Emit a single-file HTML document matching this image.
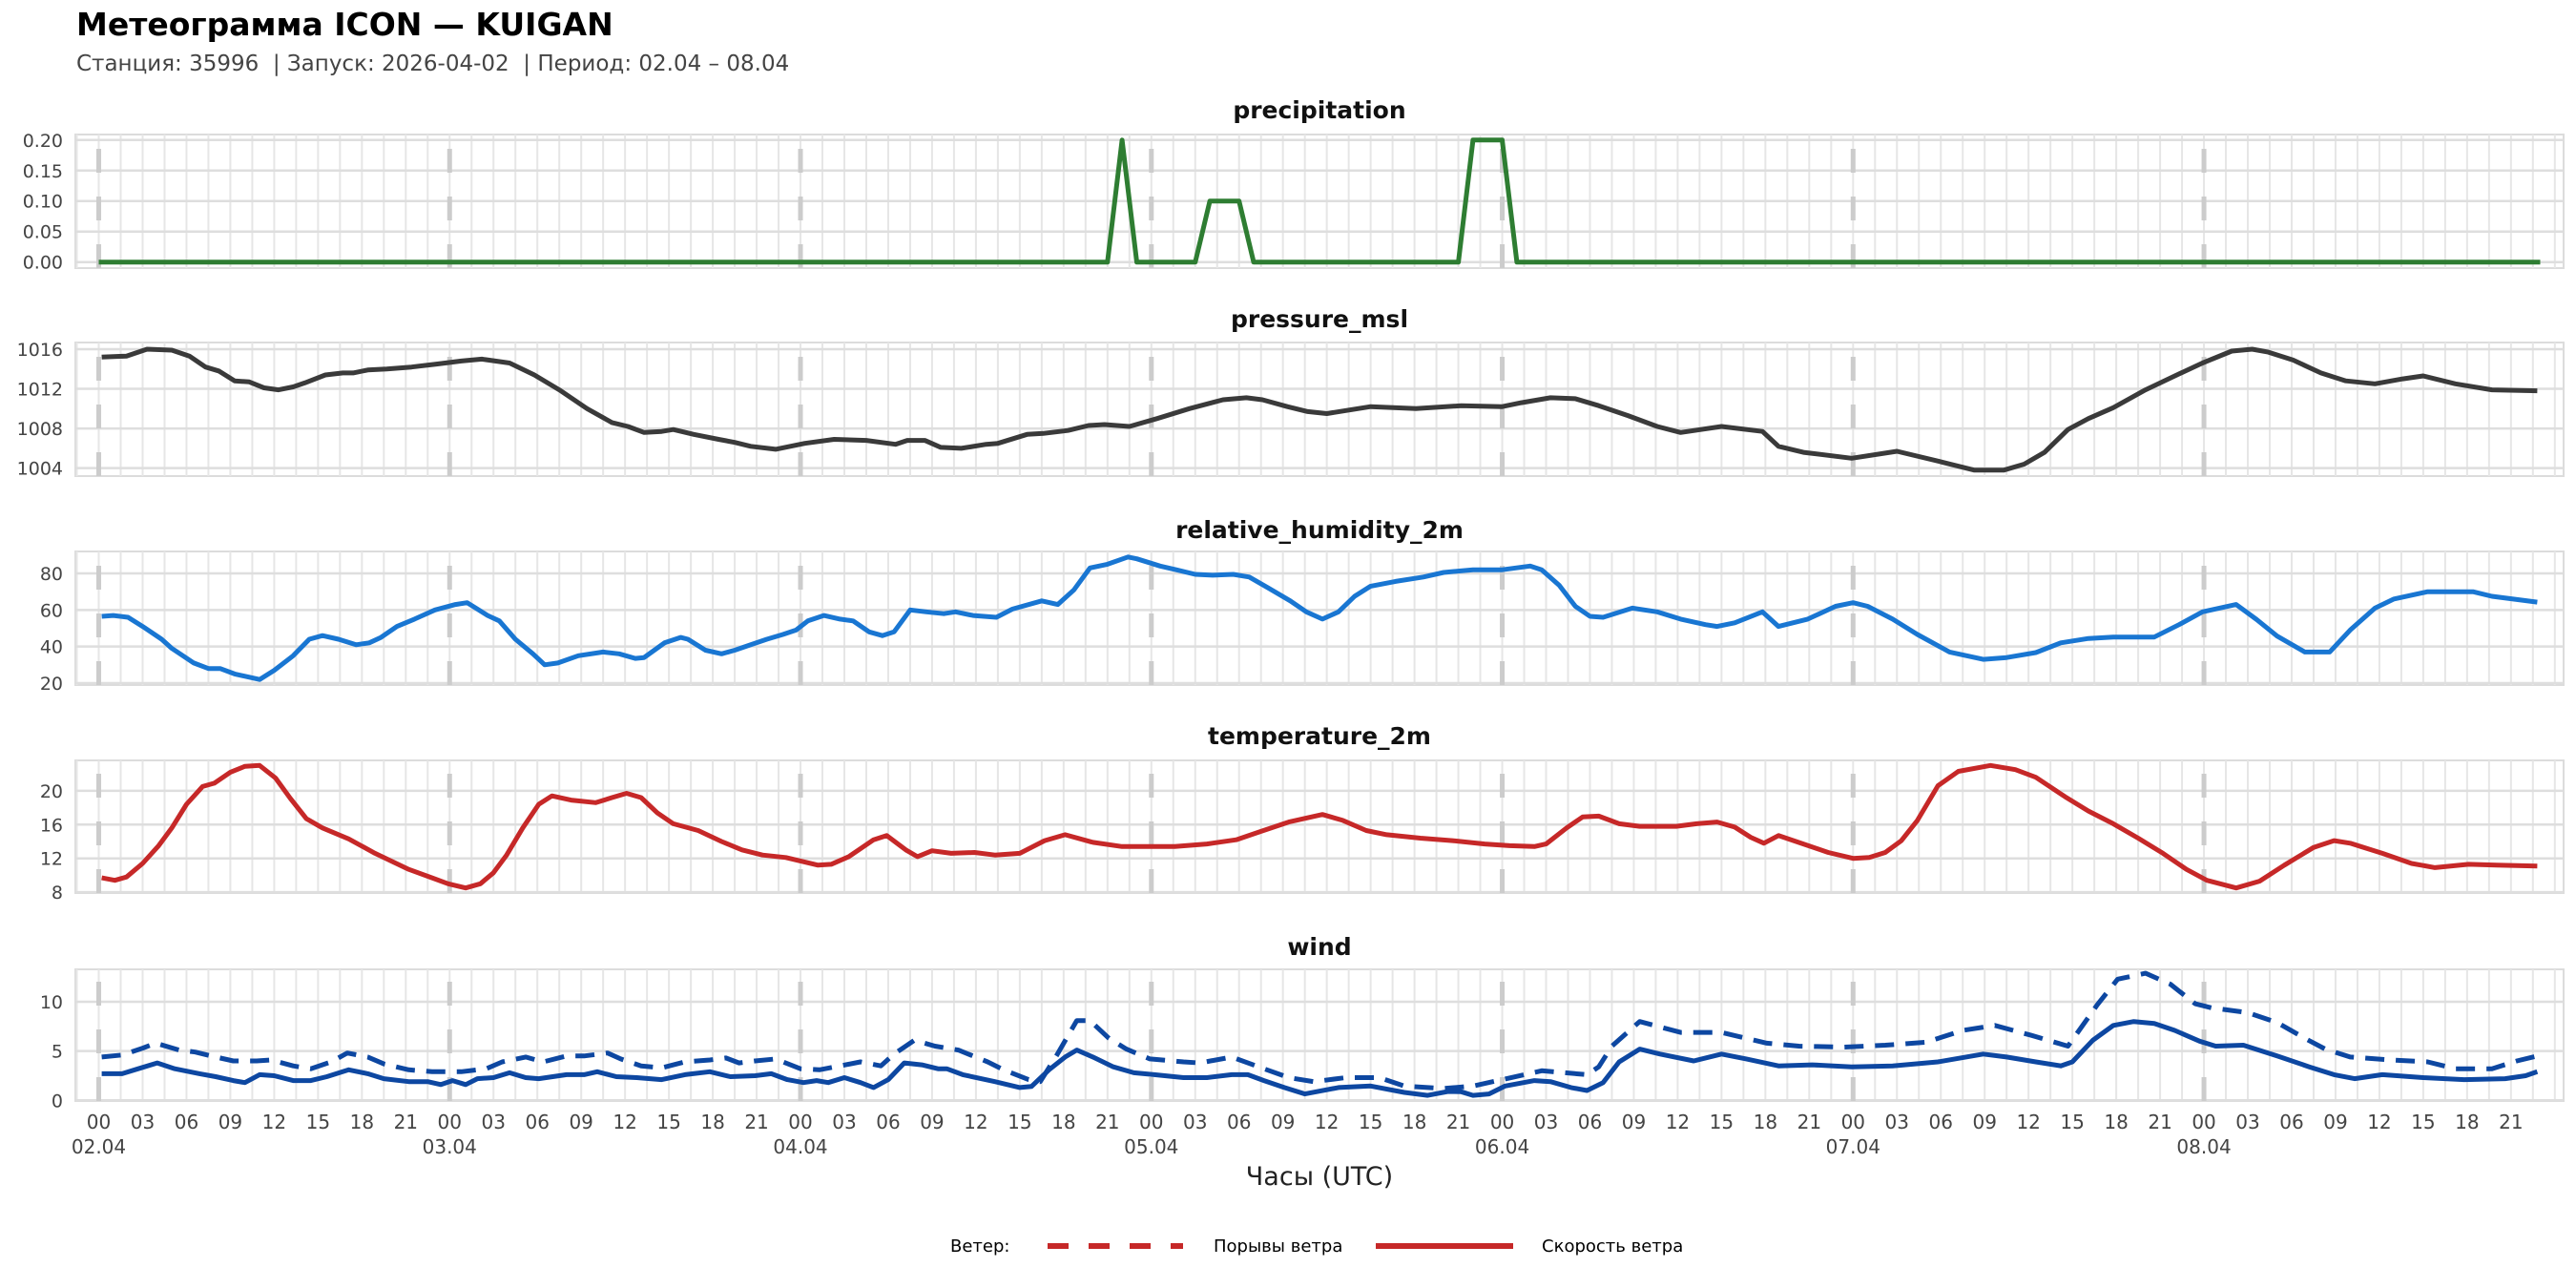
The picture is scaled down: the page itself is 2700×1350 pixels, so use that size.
<!DOCTYPE html>
<html><head><meta charset="utf-8">
<style>
html,body{margin:0;padding:0;background:#fff;}
svg{display:block;font-family:"DejaVu Sans","Liberation Sans","Noto Sans CJK SC",sans-serif;}
</style></head>
<body>
<svg id="chart" width="2700" height="1350" viewBox="0 0 2700 1350">
<text x="80" y="37" font-size="33" font-weight="bold" fill="#000">Метеограмма ICON — KUIGAN</text>
<text x="80" y="74" font-size="23" fill="#444">Станция: 35996 &#160;| Запуск: 2026-04-02 &#160;| Период: 02.04 – 08.04</text>
<text x="1383" y="1242" font-size="27" fill="#222" text-anchor="middle">Часы (UTC)</text>
<g>
<text x="996" y="1312" font-size="18" fill="#000">Ветер:</text>
<line x1="1098" y1="1306" x2="1240" y2="1306" stroke="#c62828" stroke-width="6" stroke-dasharray="22 21"/>
<text x="1272" y="1312" font-size="18" fill="#000">Порывы ветра</text>
<line x1="1442" y1="1306" x2="1586" y2="1306" stroke="#c62828" stroke-width="6"/>
<text x="1616" y="1312" font-size="18" fill="#000">Скорость ветра</text>
</g>
</svg>
<script>
// ---- data ----
const dayLabels = ["02.04","03.04","04.04","05.04","06.04","07.04","08.04"];
const hourLabels = ["00","03","06","09","12","15","18","21"];

const precipHours = [0,69,70,71,75,76,77,78,79,93,94,95,96,97,167];
const precipVals  = [0,0,0.2,0,0,0.1,0.1,0.1,0,0,0.2,0.2,0.2,0,0];

const pressureHours = [0.2,1.9,3.3,5,6.2,7.3,8.2,9.3,10.3,11.3,12.3,13.3,14.1,15.5,16.7,17.4,18.4,19.7,21.4,23.1,24.8,26.2,28.1,29.8,31.5,33.4,35.1,36.2,37.3,38.5,39.3,40.7,42.4,43.5,44.6,46.3,48.3,50.3,52.5,54.5,55.3,56.5,57.6,59,60.7,61.5,63.5,64.6,66.3,67.7,68.8,70.5,72.4,74.6,76.9,78.5,79.6,81.3,82.7,84,87,90.1,93.2,96,97.3,99.3,101,102.6,104.6,106.6,108.2,111,113.8,114.9,116.6,119.9,123,126.1,128.3,130.3,131.7,133.1,134.7,136.1,137.8,140,142.3,143.9,145.9,147.3,148.4,150.1,152,153.7,155.7,157.6,159,161.2,163.7,166.8];
const pressureVals = [1015.2,1015.3,1016,1015.9,1015.3,1014.2,1013.8,1012.8,1012.7,1012.1,1011.9,1012.2,1012.6,1013.4,1013.6,1013.6,1013.9,1014.0,1014.2,1014.5,1014.8,1015.0,1014.6,1013.4,1011.9,1010.0,1008.6,1008.2,1007.6,1007.7,1007.9,1007.4,1006.9,1006.6,1006.2,1005.9,1006.5,1006.9,1006.8,1006.4,1006.8,1006.8,1006.1,1006.0,1006.4,1006.5,1007.4,1007.5,1007.8,1008.3,1008.4,1008.2,1009.0,1010.0,1010.9,1011.1,1010.9,1010.2,1009.7,1009.5,1010.2,1010.0,1010.3,1010.2,1010.6,1011.1,1011.0,1010.3,1009.3,1008.2,1007.6,1008.2,1007.7,1006.2,1005.6,1005.0,1005.7,1004.6,1003.8,1003.8,1004.4,1005.6,1007.9,1009.0,1010.1,1011.9,1013.5,1014.6,1015.8,1016.0,1015.7,1014.9,1013.6,1012.8,1012.5,1013.0,1013.3,1012.5,1011.9,1011.8];

const rhHours = [0.2,1,2,3,4.3,5,6.5,7.5,8.3,9.3,11,12,13.3,14.4,15.3,16.4,17.6,18.5,19.3,20.4,21.6,23,24.4,25.2,26.6,27.4,28.5,29.7,30.5,31.4,32.8,34.5,35.6,36.7,37.3,38.7,39.8,40.3,41.5,42.6,43.5,44.6,45.7,46.8,47.7,48.5,49.6,50.7,51.6,52.7,53.6,54.4,55.5,56.6,57.8,58.6,59.8,61.4,62.5,64.5,65.6,66.7,67.8,69,70.4,71,72.6,73.7,75,76.2,77.6,78.7,80,81.5,82.6,83.7,84.8,85.9,87,88.7,90.6,92,94,96,97.9,98.7,99.9,101,102,102.9,104.9,106.6,108.2,109.9,110.7,111.9,113.8,114.9,116.9,118.8,120,121,122.7,124.4,126.6,128.9,130.5,132.5,134.2,136.1,137.8,140.6,142.3,143.9,146.2,147.6,149,150.9,152.6,154,155.7,157,159.3,162.4,163.7,166.8];
const rhVals = [56.5,57,56,51,44,39,31,28,28,25,22,27,35,44,46,44,41,42,45,51,55,60,63,64,57,54,44,36,30,31,35,37,36,33.5,34,42,45,44,38,36,38,41,44,46.6,49,54,57,55,54,48,46,48,60,59,58,59,57,56,60.5,65,63,71,83,85,89,88,84,82,79.5,79,79.5,78,72,65,59,55,59,67.5,73,75.6,78,80.5,82,82,84,82,73.5,62,56.5,56,61,59,55,52,51,53,59,51,55,62,64,62,55,46.6,37,33,34,36.7,42,44.4,45.2,45.2,52,59,63,54.8,45.7,37,37,49,61,66,70,70,67.5,64.3];

const tempHours = [0.2,1.1,1.9,3,4.1,5,6,7.1,7.9,9,10,11,12.1,13.1,14.2,15.3,17.1,18.9,21.2,22.8,23.9,25.1,26.1,27,27.9,29,30.1,31,32.3,34,35.1,36.1,37.1,38.2,39.3,41,42.6,44,45.4,47,48.2,49.2,50.1,51.3,53,53.9,55.2,56,57,58.3,59.9,61.3,63,64.7,66.1,68,70,72,73.6,75.8,77.8,79.5,81.4,83.7,85.1,86.7,88.1,90.4,92.6,94.8,96.5,98.2,99,100.4,101.5,102.6,104,105.4,107.9,109.3,110.7,111.9,113,113.9,114.9,116.6,118.3,120,121.1,122.2,123.3,124.4,125.8,127.2,129.4,131.1,132.5,134.5,136.1,137.8,139.5,141.2,142.8,144.2,146.2,147.8,149.5,151.5,152.9,154,156.2,158.2,159.8,162.1,164,166.8];
const tempVals = [9.7,9.4,9.8,11.4,13.5,15.6,18.4,20.5,20.9,22.2,22.9,23.0,21.5,19.1,16.7,15.6,14.3,12.6,10.7,9.7,9.0,8.5,9.0,10.3,12.4,15.6,18.4,19.4,18.9,18.6,19.2,19.7,19.2,17.4,16.1,15.3,14.0,13.0,12.4,12.1,11.6,11.2,11.3,12.2,14.2,14.7,13.0,12.2,12.9,12.6,12.7,12.4,12.6,14.1,14.8,13.9,13.4,13.4,13.4,13.7,14.2,15.2,16.3,17.2,16.5,15.3,14.8,14.4,14.1,13.7,13.5,13.4,13.7,15.6,16.9,17.0,16.1,15.8,15.8,16.1,16.3,15.7,14.5,13.8,14.7,13.7,12.7,12.0,12.1,12.7,14.1,16.5,20.6,22.3,23.0,22.5,21.6,19.3,17.6,16.1,14.4,12.6,10.7,9.4,8.5,9.3,11.2,13.3,14.1,13.8,12.6,11.4,10.9,11.3,11.2,11.1];

const windHours = [0.2,1.6,2.7,4,5.2,6.9,8,9.2,10,11,12,13.3,14.5,15.6,17.1,18.4,19.5,21.2,22.5,23.4,24.2,25.1,25.9,27,28.1,29.2,30.1,32,33.2,34.1,35.4,36.8,38.5,40.1,41.8,43.2,44.9,46,47.1,48.2,49.1,49.9,51,52.1,53,54,55.1,56.3,57.4,58,59.1,61.3,63,63.8,65,66.1,66.9,68,69.4,70.8,72.2,74.2,75.8,77.5,78.6,79.7,81.1,82.5,84.8,87,89.3,90.9,92.3,93.2,94,95.1,96.2,98.2,99.3,100.7,101.8,102.9,104,105.4,106.8,109.1,111,112.7,114.9,117.2,119.9,122.7,125.8,128.9,130.5,132.5,134.2,135,136.4,137.8,139.2,140.6,142,143.7,144.8,146.7,149,151.2,152.9,154.3,156.2,159,161.8,164.6,166,166.8];
const windVals = [2.7,2.7,3.2,3.8,3.2,2.7,2.4,2.0,1.8,2.6,2.5,2.0,2.0,2.4,3.1,2.7,2.2,1.9,1.9,1.6,2.0,1.6,2.2,2.3,2.8,2.3,2.2,2.6,2.6,2.9,2.4,2.3,2.1,2.6,2.9,2.4,2.5,2.7,2.1,1.8,2.0,1.8,2.3,1.8,1.3,2.1,3.8,3.6,3.2,3.2,2.6,1.9,1.3,1.4,3.1,4.4,5.1,4.4,3.4,2.8,2.6,2.3,2.3,2.6,2.6,2.0,1.3,0.65,1.3,1.45,0.8,0.5,0.9,0.87,0.5,0.65,1.45,2.0,1.9,1.3,1.0,1.8,3.9,5.2,4.7,4.0,4.7,4.2,3.5,3.6,3.4,3.5,3.9,4.7,4.4,3.9,3.5,3.9,6.1,7.6,8.0,7.8,7.1,6.0,5.5,5.6,4.5,3.4,2.6,2.2,2.6,2.3,2.1,2.2,2.5,2.9];

const gustHours = [0.2,1.6,3,3.9,5.5,6.6,8,9.2,10.8,11.8,13.3,14.5,15.9,17,18.4,19.5,21.2,22.8,24.8,26.5,27.6,29.2,30.4,32,33.2,34.8,35.7,37.1,38.5,40.1,41.8,42.9,43.8,44.9,46.3,48,49.3,50.7,52.1,53.5,54.4,55.8,57.2,58.8,60.8,61.9,63.6,64.4,65.5,66.9,67.8,69.1,70.3,71.9,74.2,75.3,77.5,79.7,81.4,83.1,85.3,87.6,89.3,92,94,96,98.7,101.8,102.6,103.5,105.4,108.2,111,114.1,116.3,119.4,122.2,125,127.5,129.7,132.2,134.7,136.7,138.1,140,141.7,143.4,144.5,147,149,150.9,152.3,154,156.8,159.3,161.2,163.7,165.4,166.8];
const gustVals = [4.4,4.6,5.3,5.8,5.1,4.9,4.4,4.0,4.0,4.1,3.5,3.2,3.9,4.8,4.4,3.7,3.1,2.9,2.9,3.2,3.9,4.4,3.9,4.5,4.5,4.8,4.2,3.5,3.3,3.9,4.1,4.3,3.8,4.0,4.2,3.2,3.1,3.5,3.9,3.5,4.7,6.1,5.5,5.1,3.9,3.1,2.1,1.9,4.5,8.1,8.1,6.3,5.2,4.2,3.9,3.8,4.4,3.2,2.3,1.9,2.3,2.3,1.45,1.2,1.45,2.1,3.0,2.6,3.4,5.5,8.0,6.9,6.9,5.8,5.5,5.4,5.6,5.9,7.1,7.6,6.6,5.5,9.7,12.3,12.9,11.8,9.8,9.4,8.9,7.9,6.3,5.2,4.4,4.1,3.9,3.2,3.2,4.0,4.5];

const precipTicks = [0,0.05,0.1,0.15,0.2];
const pressureTicks = [1004,1008,1012,1016];
const rhTicks = [20,40,60,80];
const tempTicks = [8,12,16,20];
const windTicks = [0,5,10];

// ---- layout ----
const NS = "http://www.w3.org/2000/svg";
const svg = document.getElementById("chart");
const X0 = 79, X1 = 2687, HMIN = -1.6, HMAX = 168.6;
function xs(h){ return X0 + (h - HMIN) / (HMAX - HMIN) * (X1 - X0); }
function mk(tag, attrs, parent){
  const e = document.createElementNS(NS, tag);
  for (const k in attrs) e.setAttribute(k, attrs[k]);
  (parent || svg).appendChild(e);
  return e;
}
function makeY(top, bottom, vmin, vmax){
  return v => bottom - (v - vmin) / (vmax - vmin) * (bottom - top);
}
function linePath(hours, vals, ys){
  return hours.map((h,i)=>(i?"L":"M")+xs(h).toFixed(1)+","+ys(vals[i]).toFixed(1)).join(" ");
}

function panel(key, title, titleY, top, bottom, vmin, vmax, ticks, fmt){
  const g = mk("g", {});
  
  
  const ys = makeY(top, bottom, vmin, vmax);
  const bg = mk("rect", {x:X0, y:top, width:X1-X0, height:bottom-top, fill:"#fff", stroke:"#dcdcdc", "stroke-width":2}, g);
  
  
  for (let h = -1.5; h <= 168.5; h += 1.5) {
    const l = mk("line", {x1:xs(h), x2:xs(h), y1:top, y2:bottom, stroke:"#e6e6e6", "stroke-width":2}, g);
    
    
  }
  ticks.forEach(t => {
    const l = mk("line", {x1:X0, x2:X1, y1:ys(t), y2:ys(t), stroke:"#dedede", "stroke-width":2.5}, g);
    
    
    const tx = mk("text", {x:66, y:ys(t)+7, "font-size":19, fill:"#444", "text-anchor":"end"}, g);
    tx.textContent = fmt(t);
    
    
  });
  for (let d = 0; d < dayLabels.length; d++) {
    const l = mk("line", {x1:xs(d*24), x2:xs(d*24), y1:bottom, y2:top, stroke:"#cccccc", "stroke-width":5, "stroke-dasharray":"25 25"}, g);
    
    
  }
  const tt = mk("text", {x:(X0+X1)/2, y:titleY+9, "font-size":25, "font-weight":"bold", fill:"#111", "text-anchor":"middle"}, g);
  tt.textContent = title;
  
  
  return {g, ys};
}

const P1 = panel("precipitation","precipitation",115,141,281,-0.0098,0.209,precipTicks,v=>v.toFixed(2));
const pl1 = mk("path",{d:linePath(precipHours,precipVals,P1.ys),fill:"none",stroke:"#2e7d32","stroke-width":5,"stroke-linejoin":"round"},P1.g);



const P2 = panel("pressure","pressure_msl",334,359,499,1003.2,1016.67,pressureTicks,v=>String(v));
const pl2 = mk("path",{d:linePath(pressureHours,pressureVals,P2.ys),fill:"none",stroke:"#3a3a3a","stroke-width":5,"stroke-linejoin":"round"},P2.g);



const P3 = panel("humidity","relative_humidity_2m",555,578,718,18.96,92,rhTicks,v=>String(v));
const pl3 = mk("path",{d:linePath(rhHours,rhVals,P3.ys),fill:"none",stroke:"#1976d2","stroke-width":5,"stroke-linejoin":"round"},P3.g);



const P4 = panel("temperature","temperature_2m",771,797,936,7.9,23.6,tempTicks,v=>String(v));
const pl4 = mk("path",{d:linePath(tempHours,tempVals,P4.ys),fill:"none",stroke:"#c62828","stroke-width":5,"stroke-linejoin":"round"},P4.g);



const P5 = panel("wind","wind",992,1016,1154,-0.07,13.3,windTicks,v=>String(v));
const pl5 = mk("path",{d:linePath(gustHours,gustVals,P5.ys),fill:"none",stroke:"#0d47a1","stroke-width":5,"stroke-dasharray":"20 12","stroke-linejoin":"round"},P5.g);


const pl6 = mk("path",{d:linePath(windHours,windVals,P5.ys),fill:"none",stroke:"#0d47a1","stroke-width":5,"stroke-linejoin":"round"},P5.g);



for (let d = 0; d < dayLabels.length; d++) {
  for (let k = 0; k < hourLabels.length; k++) {
    const h = d*24 + k*3;
    const t = mk("text",{x:xs(h), y:1183, "font-size":20, fill:"#444", "text-anchor":"middle"});
    t.textContent = hourLabels[k];
    
    
  }
  const dl = mk("text",{x:xs(d*24), y:1209, "font-size":20, fill:"#444", "text-anchor":"middle"});
  dl.textContent = dayLabels[d];
  
  
}
</script>
</body></html>
